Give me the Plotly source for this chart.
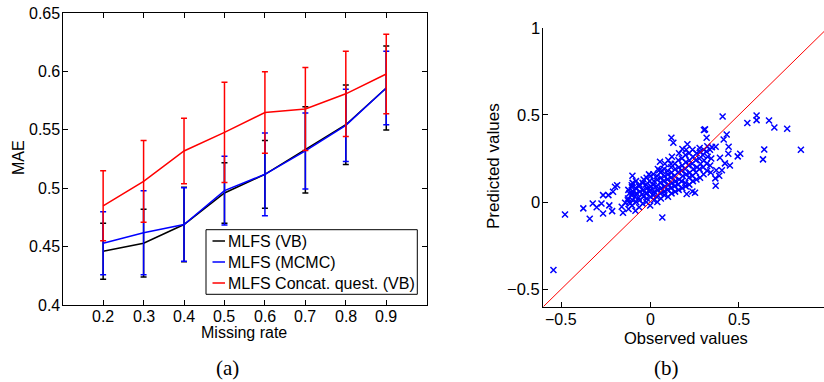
import plotly.graph_objects as go

# ---------------- data: panel (a) ----------------
missing_rate = [0.2, 0.3, 0.4, 0.5, 0.6, 0.7, 0.8, 0.9]
mae_vb = [0.446, 0.453, 0.469, 0.496, 0.512, 0.533, 0.5545, 0.586]
err_vb = [0.024, 0.029, 0.032, 0.026, 0.029, 0.037, 0.034, 0.036]
mae_mcmc = [0.453, 0.462, 0.469, 0.498, 0.512, 0.532, 0.554, 0.586]
err_mcmc = [0.027, 0.036, 0.0315, 0.0295, 0.0355, 0.0325, 0.031, 0.0315]
mae_concat = [0.485, 0.506, 0.532, 0.548, 0.565, 0.568, 0.581, 0.598]
err_concat = [0.030, 0.035, 0.028, 0.043, 0.035, 0.0355, 0.0365, 0.034]
series_names = ["MLFS (VB)", "MLFS (MCMC)", "MLFS Concat. quest. (VB)"]
x_ticks_a = [0.2, 0.3, 0.4, 0.5, 0.6, 0.7, 0.8, 0.9]
x_ticklabels_a = ["0.2", "0.3", "0.4", "0.5", "0.6", "0.7", "0.8", "0.9"]
y_ticks_a = [0.4, 0.45, 0.5, 0.55, 0.6, 0.65]
y_ticklabels_a = ["0.4", "0.45", "0.5", "0.55", "0.6", "0.65"]

# ---------------- data: panel (b) ----------------
observed = [
    # sparse left
    -0.543, -0.478, -0.375, -0.339, -0.322, -0.300, -0.273, -0.264, -0.264, -0.234,
    -0.229, -0.213, -0.208, -0.197, -0.185, -0.159, -0.152, -0.140, -0.125, -0.112,
    -0.103, -0.099, -0.099, -0.006, 0.069, 0.056, 0.118, 0.051, 0.067,
    # sparse right
    0.408, 0.547, 0.599, 0.599, 0.669, 0.699, 0.771, 0.642, 0.635, 0.848,
    0.507, 0.493, 0.440, 0.449, 0.421, 0.442, 0.431, 0.414, 0.309, 0.120,
    0.131, 0.210, 0.182, 0.367, 0.389, 0.372, 0.404, 0.348, 0.369, 0.238,
    0.253, 0.206, 0.369, 0.393, 0.303, 0.318,
    # dense cluster
    -0.121, -0.118, -0.124, -0.116, -0.122,
    -0.101, -0.097, -0.104, -0.095, -0.102, -0.098,
    -0.082, -0.078, -0.084, -0.076, -0.081, -0.079,
    -0.061, -0.058, -0.064, -0.057, -0.062, -0.059,
    -0.041, -0.037, -0.043, -0.038, -0.042, -0.036,
    -0.021, -0.018, -0.024, -0.017, -0.022, -0.019,
    0.001, 0.004, -0.003, 0.002, 0.005, -0.002, 0.003,
    0.021, 0.018, 0.024, 0.017, 0.022, 0.019,
    0.041, 0.038, 0.043, 0.037, 0.042, 0.039, 0.044,
    0.061, 0.058, 0.064, 0.057, 0.062, 0.059,
    0.081, 0.078, 0.084, 0.077, 0.082, 0.079, 0.083,
    0.101, 0.098, 0.104, 0.097, 0.102, 0.099, 0.103,
    0.121, 0.118, 0.124, 0.117, 0.122, 0.119, 0.123,
    0.141, 0.138, 0.144, 0.137, 0.142, 0.139,
    0.161, 0.158, 0.164, 0.157, 0.162, 0.159, 0.163,
    0.181, 0.178, 0.184, 0.177, 0.182, 0.179,
    0.201, 0.198, 0.204, 0.197, 0.202, 0.199, 0.203,
    0.221, 0.218, 0.224, 0.217, 0.222, 0.219,
    0.241, 0.238, 0.244, 0.237, 0.242, 0.239,
    0.261, 0.258, 0.264, 0.257, 0.262,
    0.281, 0.278, 0.284, 0.277, 0.282, 0.279,
    0.301, 0.298, 0.304, 0.297, 0.302,
    0.321, 0.318, 0.324, 0.317, 0.322,
    0.341, 0.338, 0.344, 0.337,
]
predicted = [
    # sparse left
    -0.390, -0.071, -0.036, -0.096, -0.008, -0.030, -0.008, -0.065, 0.040, 0.040,
    -0.019, -0.052, 0.059, 0.088, 0.096, -0.027, -0.061, -0.004, 0.011, -0.008,
    0.097, 0.050, 0.151, 0.159, -0.088, 0.231, 0.218, 0.183, 0.179,
    # sparse right
    0.491, 0.453, 0.497, 0.470, 0.468, 0.428, 0.420, 0.302, 0.245, 0.300,
    0.277, 0.262, 0.277, 0.210, 0.222, 0.317, 0.388, 0.359, 0.417, 0.369,
    0.340, 0.332, 0.304, 0.136, 0.151, 0.182, 0.183, 0.315, 0.317, 0.061,
    0.053, 0.046, 0.094, 0.254, 0.413, 0.369,
    # dense cluster
    -0.04, 0.00, 0.02, 0.05, 0.07,
    -0.02, 0.01, 0.04, 0.06, 0.085, 0.11,
    -0.05, 0.00, 0.03, 0.05, 0.08, 0.12,
    -0.03, 0.01, 0.025, 0.06, 0.09, 0.10,
    -0.01, 0.03, 0.045, 0.07, 0.11, 0.13,
    0.00, 0.02, 0.05, 0.08, 0.10, 0.14,
    -0.02, 0.03, 0.06, 0.07, 0.09, 0.12, 0.15,
    0.01, 0.04, 0.06, 0.10, 0.12, 0.16,
    0.00, 0.03, 0.07, 0.09, 0.13, 0.15, 0.19,
    0.02, 0.05, 0.08, 0.11, 0.14, 0.17,
    0.04, 0.06, 0.09, 0.12, 0.15, 0.19, 0.22,
    0.03, 0.07, 0.10, 0.13, 0.16, 0.18, 0.24,
    0.05, 0.08, 0.11, 0.14, 0.17, 0.20, 0.26,
    0.06, 0.09, 0.12, 0.15, 0.19, 0.22,
    0.07, 0.10, 0.13, 0.17, 0.20, 0.24, 0.28,
    0.08, 0.12, 0.15, 0.18, 0.21, 0.25,
    0.09, 0.11, 0.16, 0.19, 0.23, 0.27, 0.30,
    0.10, 0.14, 0.17, 0.21, 0.24, 0.28,
    0.12, 0.15, 0.19, 0.22, 0.26, 0.30,
    0.13, 0.17, 0.20, 0.24, 0.28,
    0.14, 0.19, 0.22, 0.25, 0.29, 0.31,
    0.16, 0.20, 0.24, 0.27, 0.30,
    0.18, 0.22, 0.26, 0.29, 0.32,
    0.17, 0.21, 0.25, 0.30,
]
identity_line = [-0.6, 1.0]
b_ticks = [-0.5, 0, 0.5]
b_ticklabels = ["\u22120.5", "0", "0.5"]
b_yticks = [-0.5, 0, 0.5, 1]
b_yticklabels = ["\u22120.5", "0", "0.5", "1"]

n = min(len(observed), len(predicted))
observed, predicted = observed[:n], predicted[:n]

W, H = 824, 382
FONT = "Liberation Sans, Arial, Helvetica, sans-serif"
SERIF = "Liberation Serif, Times New Roman, serif"
colors = ["#000000", "#0000ff", "#ff0000"]


def px(x):
    return x / W


def py(y):
    return 1 - y / H


fig = go.Figure()
for name, ys, es, c in zip(series_names, [mae_vb, mae_mcmc, mae_concat],
                           [err_vb, err_mcmc, err_concat], colors):
    fig.add_trace(go.Scatter(
        x=missing_rate, y=ys, mode="lines", name=name,
        line=dict(color=c, width=1.5),
        error_y=dict(type="data", array=es, visible=True, color=c,
                     thickness=1.5, width=3),
        xaxis="x", yaxis="y", showlegend=False))

fig.add_trace(go.Scatter(
    x=observed, y=predicted, mode="markers",
    marker=dict(symbol="x-thin", size=6, line=dict(color="#0000ff", width=1.5)),
    xaxis="x2", yaxis="y2", showlegend=False))
fig.add_trace(go.Scatter(
    x=identity_line, y=identity_line, mode="lines",
    line=dict(color="#ff0000", width=1),
    xaxis="x2", yaxis="y2", showlegend=False))


def axis_style():
    return dict(showgrid=False, zeroline=False, showline=True,
                linecolor="black", linewidth=1, ticks="inside", ticklen=5,
                tickcolor="black", tickwidth=1, showticklabels=False)


fig.update_layout(
    width=W, height=H, margin=dict(l=0, r=0, t=0, b=0),
    paper_bgcolor="white", plot_bgcolor="white",
    font=dict(family=FONT, color="black"),
    xaxis=dict(domain=[px(62.7), px(426.7)], range=[0.1, 1.0], anchor="y",
               tickvals=x_ticks_a, mirror="ticks", **axis_style()),
    yaxis=dict(domain=[py(305), py(13.3)], range=[0.4, 0.65], anchor="x",
               tickvals=y_ticks_a, mirror="ticks", **axis_style()),
    xaxis2=dict(domain=[px(543.3), 1.0], range=[-0.6, 0.978], anchor="y2",
                tickvals=b_ticks, mirror=False, **axis_style()),
    yaxis2=dict(domain=[py(306.7), py(27.7)], range=[-0.6, 1.0], anchor="x2",
                tickvals=b_yticks, mirror=False, **axis_style()),
    showlegend=False,
)

# tick labels placed as text at the axes' tick positions
for v, t in zip(x_ticks_a, x_ticklabels_a):
    fig.add_annotation(xref="x", yref="paper", x=v, y=py(316.5), text=t,
                       showarrow=False, xanchor="center", yanchor="middle",
                       borderpad=0, font=dict(family=FONT, size=16, color="black"))
for v, t in zip(y_ticks_a, y_ticklabels_a):
    fig.add_annotation(xref="paper", yref="y", x=px(61.5), y=v, text=t,
                       showarrow=False, xanchor="right", yanchor="middle",
                       borderpad=0, font=dict(family=FONT, size=16, color="black"))
for v, t in zip(b_ticks, b_ticklabels):
    fig.add_annotation(xref="x2", yref="paper", x=v, y=py(319), text=t,
                       showarrow=False, xanchor="center", yanchor="middle",
                       borderpad=0, font=dict(family=FONT, size=16, color="black"))
for v, t in zip(b_yticks, b_yticklabels):
    fig.add_annotation(xref="paper", yref="y2", x=px(540.5), y=v, text=t,
                       showarrow=False, xanchor="right", yanchor="middle",
                       borderpad=0, font=dict(family=FONT, size=16.5, color="black"))

# manual legend (MATLAB style)
fig.add_shape(type="rect", xref="paper", yref="paper",
              x0=px(206), x1=px(417.3), y0=py(294.3), y1=py(229.7),
              line=dict(color="black", width=1), fillcolor="white", layer="above")
rows_y = [241, 262, 283]
for name, c, ry in zip(series_names, colors, rows_y):
    fig.add_shape(type="line", xref="paper", yref="paper",
                  x0=px(212.5), x1=px(225), y0=py(ry), y1=py(ry),
                  line=dict(color=c, width=1.5), layer="above")
    fig.add_annotation(xref="paper", yref="paper", x=px(226.5), y=py(ry),
                       text=name, showarrow=False, xanchor="left", yanchor="middle",
                       borderpad=0, font=dict(family=FONT, size=16, color="black"))

annots = [
    dict(x=px(18), y=py(158), text="MAE", textangle=-90, size=16, fam=FONT),
    dict(x=px(244), y=py(332), text="Missing rate", textangle=0, size=16, fam=FONT),
    dict(x=px(493), y=py(166), text="Predicted values", textangle=-90, size=17, fam=FONT),
    dict(x=px(685.5), y=py(338), text="Observed values", textangle=0, size=16.5, fam=FONT),
    dict(x=px(227), y=py(367.5), text="(a)", textangle=0, size=21, fam=SERIF),
    dict(x=px(666), y=py(367.5), text="(b)", textangle=0, size=21, fam=SERIF),
]
for a in annots:
    fig.add_annotation(xref="paper", yref="paper", x=a["x"], y=a["y"], text=a["text"],
                       textangle=a["textangle"], showarrow=False,
                       xanchor="center", yanchor="middle", borderpad=0,
                       font=dict(family=a["fam"], size=a["size"], color="black"))

fig.write_html(
    "out.html",
    config={"displayModeBar": False},
    post_script="document.body.style.margin='0';document.body.style.padding='0';"
                "document.body.style.overflow='hidden';",
)
